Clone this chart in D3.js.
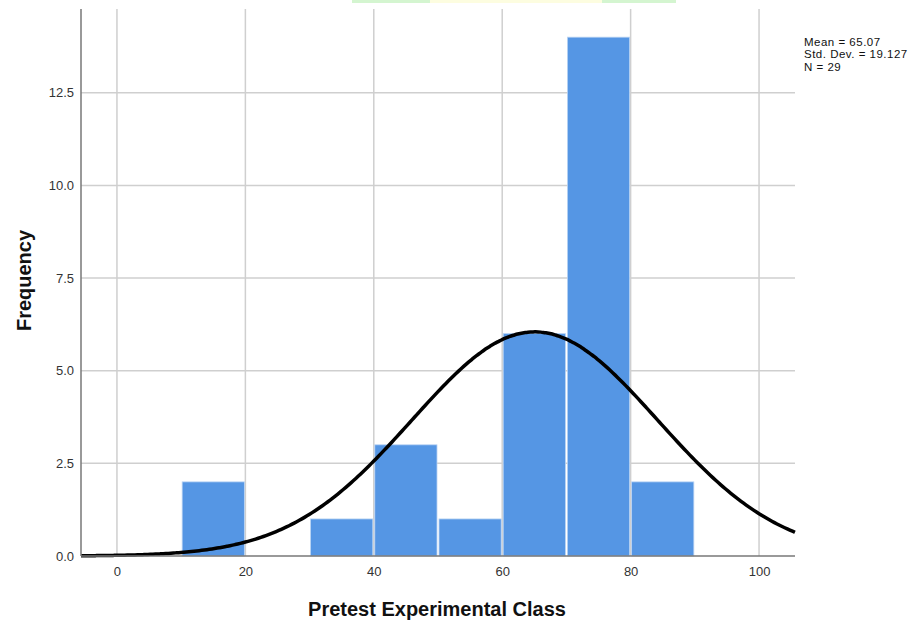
<!DOCTYPE html>
<html>
<head>
<meta charset="utf-8">
<script src="https://cdn.jsdelivr.net/npm/d3@7"></script>
<style>
  html, body { margin: 0; padding: 0; background: #fff; }
  svg { display: block; font-family: "Liberation Sans", Arial, sans-serif; }
</style>
</head>
<body>
<svg id="chart" width="919" height="621"></svg>
<script>
// ---- data ----
const binStarts = [10, 30, 40, 50, 60, 70, 80];
const binEnds   = [20, 40, 50, 60, 70, 80, 90];
const frequencies = [2, 1, 3, 1, 6, 14, 2];
const xTicks = [0, 20, 40, 60, 80, 100];
const yTicks = [0, 2.5, 5.0, 7.5, 10.0, 12.5];
const statLabels = ["Mean = 65.07", "Std. Dev. = 19.127", "N = 29"];
const mean = 65.07, stdDev = 19.127, nCount = 29, binWidth = 10;

// ---- layout ----
const svg = d3.select("#chart");
const pLeft = 81, pRight = 795, pTop = 9, pBottom = 556;

const x = d3.scaleLinear().domain([-5.6, 105.6]).range([pLeft, pRight]);
const y = d3.scaleLinear().domain([0, 14.76]).range([pBottom, pTop]);

// faint strip at the top
const strip = [[352, 430, "#d4f5d0"], [430, 602, "#fdfde0"], [602, 676, "#d4f5d0"]];
svg.selectAll("rect.strip").data(strip).enter().append("rect")
  .attr("x", d => d[0]).attr("y", 0).attr("width", d => d[1] - d[0]).attr("height", 3)
  .attr("fill", d => d[2]);

// grid lines
svg.append("g").selectAll("line").data(yTicks.slice(1)).enter().append("line")
  .attr("x1", pLeft).attr("x2", pRight)
  .attr("y1", d => y(d)).attr("y2", d => y(d))
  .attr("stroke", "#cfcfcf").attr("stroke-width", 1.5);
svg.append("g").selectAll("line").data(xTicks).enter().append("line")
  .attr("x1", d => x(d)).attr("x2", d => x(d))
  .attr("y1", pTop).attr("y2", pBottom)
  .attr("stroke", "#cfcfcf").attr("stroke-width", 1.5);

// bars
const bins = binStarts.map((s, i) => ({ x0: s, x1: binEnds[i], f: frequencies[i] }));
svg.append("g").selectAll("rect").data(bins).enter().append("rect")
  .attr("x", d => x(d.x0) + 1)
  .attr("width", d => x(d.x1) - x(d.x0) - 2)
  .attr("y", d => y(d.f))
  .attr("height", d => y(0) - y(d.f))
  .attr("fill", "#5596e4")
  .attr("stroke", "#b9d3f3")
  .attr("stroke-width", 0.8);

// normal curve from displayed statistics
const xs = d3.range(-5.6, 105.61, 0.4);
const curve = xs.map(v => [v, nCount * binWidth / (stdDev * Math.sqrt(2 * Math.PI)) *
  Math.exp(-0.5 * Math.pow((v - mean) / stdDev, 2))]);
svg.append("path")
  .datum(curve)
  .attr("fill", "none")
  .attr("stroke", "#000")
  .attr("stroke-width", 3.5)
  .attr("d", d3.line().x(d => x(d[0])).y(d => y(d[1])).curve(d3.curveBasis));

// axes lines
svg.append("line").attr("x1", pLeft).attr("x2", pLeft).attr("y1", pTop).attr("y2", pBottom)
  .attr("stroke", "#777").attr("stroke-width", 1.5);
svg.append("line").attr("x1", pLeft).attr("x2", pRight).attr("y1", pBottom).attr("y2", pBottom)
  .attr("stroke", "#777").attr("stroke-width", 1.5);

// axes with d3
const xAxis = d3.axisBottom(x).tickValues(xTicks).tickSize(0).tickPadding(11).tickFormat(d3.format("d"));
const gx = svg.append("g").attr("transform", `translate(0,${pBottom})`).call(xAxis);
gx.select(".domain").remove();
gx.selectAll("text").attr("font-size", 13).attr("fill", "#333").attr("font-family", "Liberation Sans, Arial, sans-serif");

const yAxis = d3.axisLeft(y).tickValues(yTicks).tickSize(0).tickPadding(7).tickFormat(d3.format(".1f"));
const gy = svg.append("g").attr("transform", `translate(${pLeft},0)`).call(yAxis);
gy.select(".domain").remove();
gy.selectAll("text").attr("font-size", 13).attr("fill", "#333").attr("font-family", "Liberation Sans, Arial, sans-serif");

// axis titles
svg.append("text").attr("x", 437).attr("y", 616)
  .attr("text-anchor", "middle").attr("font-size", 20).attr("font-weight", "bold")
  .attr("fill", "#111").text("Pretest Experimental Class");
svg.append("text").attr("transform", `translate(31,280.5) rotate(-90)`)
  .attr("text-anchor", "middle").attr("font-size", 20).attr("font-weight", "bold")
  .attr("fill", "#111").text("Frequency");

// stats legend
svg.append("g").selectAll("text").data(statLabels).enter().append("text")
  .attr("x", 804).attr("y", (d, i) => 46 + i * 12.4)
  .attr("font-size", 11.5).attr("letter-spacing", 0.5)
  .attr("fill", "#111").text(d => d);
</script>
</body>
</html>
